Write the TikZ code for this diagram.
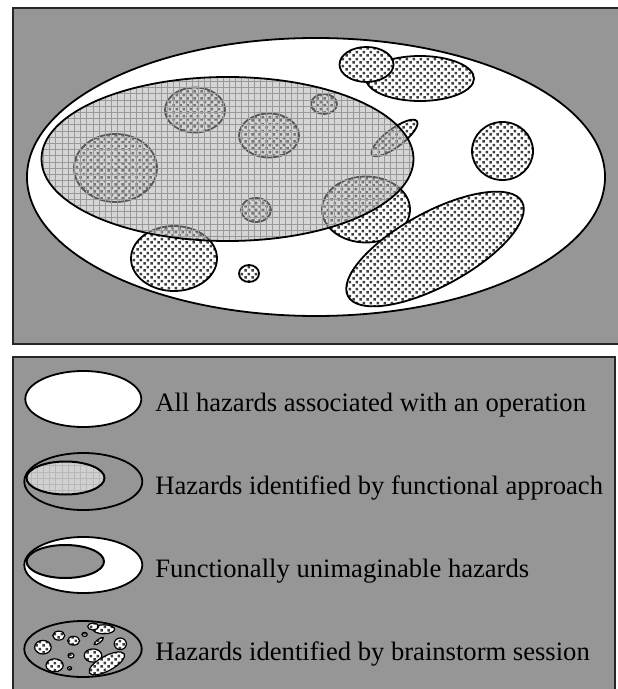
\documentclass[tikz,border=0pt]{standalone}
\usepackage{fontspec}
\setmainfont{Liberation Serif}
\usetikzlibrary{patterns}
\definecolor{fondo}{RGB}{150,150,150}
\definecolor{rejilla}{RGB}{172,172,172}
\definecolor{rejillaclara}{RGB}{208,208,208}
\pgfdeclarepatternformonly{puntos}{\pgfqpoint{0pt}{0pt}}{\pgfqpoint{3.6pt}{3.6pt}}{\pgfqpoint{3.6pt}{3.6pt}}{%
  \pgfpathrectangle{\pgfqpoint{0.2pt}{0.2pt}}{\pgfqpoint{1.4pt}{1.4pt}}%
  \pgfpathrectangle{\pgfqpoint{2pt}{2pt}}{\pgfqpoint{1.4pt}{1.4pt}}%
  \pgfusepath{fill}}
\pgfdeclarepatternformonly{cuadricula}{\pgfqpoint{-0.5pt}{-0.5pt}}{\pgfqpoint{3.5pt}{3.5pt}}{\pgfqpoint{3.1pt}{3.1pt}}{%
  \pgfsetlinewidth{0.35pt}%
  \pgfpathmoveto{\pgfqpoint{0pt}{0pt}}\pgfpathlineto{\pgfqpoint{3.2pt}{0pt}}%
  \pgfpathmoveto{\pgfqpoint{0pt}{0pt}}\pgfpathlineto{\pgfqpoint{0pt}{3.2pt}}%
  \pgfusepath{stroke}}
\tikzset{
  marco/.style={fill=fondo,draw=black!85,line width=0.6pt},
  borde/.style={draw=black,line width=0.9pt},
  todo/.style={fill=white,draw=black,line width=0.9pt},
  blob/.style={preaction={fill=white},pattern=puntos,pattern color=black!75,draw=black,line width=0.9pt},
  funcional/.style={preaction={fill=rejilla,fill opacity=0.5},pattern=cuadricula,pattern color=black!40,fill opacity=0.5,draw=black,line width=0.9pt},
  leyfunc/.style={preaction={fill=rejillaclara},pattern=cuadricula,pattern color=black!28,draw=black,line width=1pt},
  leyenda/.style={anchor=base west,inner sep=0pt,font=\fontsize{13.3}{16}\selectfont}
}
\newcommand\peligros{%
  \foreach \cx/\cy/\rx/\ry/\ang in {420/78.5/54/22.5/0, 366.5/64.5/27/17.5/0,
      195/110/30/22.5/0, 324/104/13/10/0, 269/135.5/30/22/0, 394.5/138/28/9/37,
      115.5/168/41.5/34/0, 502.5/151/30.5/29/0, 256/210/15/12/0, 366/209.5/44/33/0,
      435/249/99/37/28.5, 174/258.5/43/32.5/0, 249/273.5/10/8.5/0}
    \path[blob] (\cx,-\cy) ellipse[x radius=\rx,y radius=\ry,rotate=\ang];
}

\begin{document}
\begin{tikzpicture}[x=0.5pt,y=0.5pt]
\useasboundingbox (0,0) rectangle (617,-689);
\fill[white] (0,0) rectangle (617,-689);
\path[marco] (13,-8) rectangle (625,-344);
\path[todo] (316,-177) ellipse[x radius=289,y radius=139];
\peligros
\path[funcional] (227.5,-159) ellipse[x radius=186,y radius=82];
\path[marco] (13,-357) rectangle (615,-695);
\path[todo] (83.3,-399) ellipse[x radius=58,y radius=28];
\node[leyenda] (txttodo) at (155,-411) {All hazards associated with an operation};
\path[borde] (83.3,-481.5) ellipse[x radius=59,y radius=28.5];
\path[leyfunc] (65.5,-478) ellipse[x radius=39,y radius=16.5];
\node[leyenda] (txtfunc) at (155,-494.3) {Hazards identified by functional approach};
\path[todo] (83.3,-565) ellipse[x radius=59,y radius=28];
\path[borde,fill=fondo,line width=1pt] (65.3,-561.5) ellipse[x radius=38.7,y radius=16.5];
\node[leyenda] (txtinimag) at (155,-577.7) {Functionally unimaginable hazards};
\path[borde,fill=fondo] (83,-649) ellipse[x radius=58.7,y radius=28];
\begin{scope}[shift={(83,-649)},scale=0.2,shift={(-316,177)},blob/.append style={line width=0.6pt}]
\peligros
\end{scope}
\node[leyenda] (txtbrain) at (155,-660) {Hazards identified by brainstorm session};
\end{tikzpicture}
\end{document}
